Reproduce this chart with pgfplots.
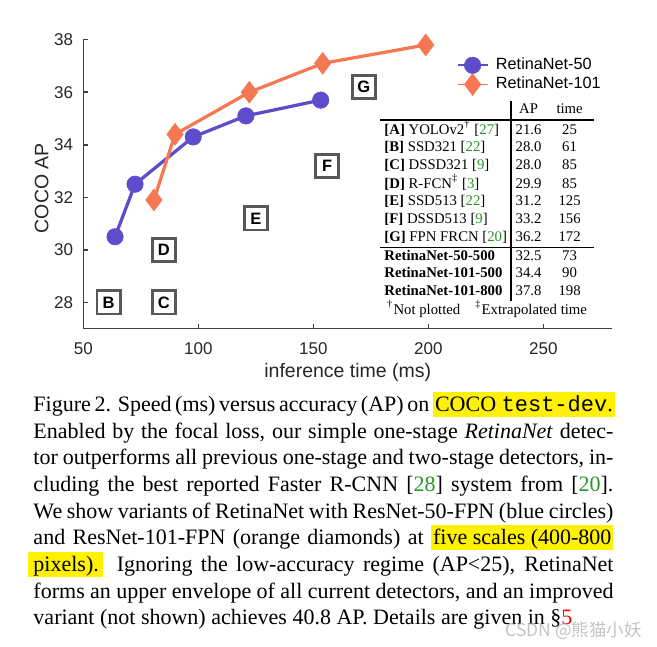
\documentclass[border=0pt]{standalone}
\usepackage{pgfplots}
\usepackage{pgfplotstable}
\pgfplotsset{compat=1.18}
\usepackage{fontspec}
\usepackage{array}
\setmainfont{Liberation Serif}
\setmonofont{Liberation Mono}
\newfontfamily\hv{Liberation Sans}
\newfontfamily\cjk{Noto Sans CJK SC}
\definecolor{rn50}{RGB}{93,76,204}
\definecolor{rn101}{RGB}{246,120,82}
\definecolor{boxgray}{RGB}{88,88,88}
\definecolor{axgray}{RGB}{64,64,64}
\definecolor{txgray}{RGB}{38,38,38}
\definecolor{hly}{RGB}{255,242,0}
\definecolor{citeg}{RGB}{40,150,40}
\newcommand\cit[1]{\textcolor{citeg}{#1}}
\newcommand\hl[1]{{\setlength\fboxsep{0pt}\colorbox{hly}{\rule[-2.2pt]{0pt}{10.2pt}\hspace{0.8pt}#1\hspace{0.8pt}}}}
\newcommand\capfont{\fontsize{8.8}{10.67}\selectfont}

\pgfplotstableread{
x y
63.8 30.5
72.5 32.5
97.8 34.3
120.7 35.1
153.2 35.7
}\rnfifty
\pgfplotstableread{
x y
80.7 31.9
89.9 34.4
122.2 36.0
154.1 37.1
198.9 37.8
}\rnhundred
\pgfplotstableread{
x y lab
61 28.0 B
85 28.0 C
85 30.0 D
125 31.2 E
156 33.2 F
172 36.2 G
}\others

\begin{document}
\begin{tikzpicture}
\path[use as bounding box] (0pt,0pt) rectangle (262.8pt,-258.8pt);
\begin{axis}[
  at={(33.32pt,-131.48pt)}, anchor=south west,
  scale only axis, width=211.6pt, height=115.6pt,
  xmin=50, xmax=280, ymin=27, ymax=38,
  axis x line*=bottom, axis y line*=left,
  axis line style={draw=axgray, line width=0.6pt, -},
  xtick={50,100,150,200,250}, ytick={28,30,32,34,36,38},
  tick align=inside, major tick length=1.8pt,
  tick style={draw=axgray, line width=0.6pt},
  /pgf/number format/assume math mode=true,
  ticklabel style={font=\hv\fontsize{6.8}{8}\selectfont, text=txgray},
  xticklabel style={yshift=-2.1pt},
  yticklabel style={xshift=-0.6pt},
  xlabel={inference time (ms)}, ylabel={COCO AP},
  label style={font=\hv\fontsize{7.8}{9}\selectfont, text=txgray},
  xlabel style={at={(axis description cs:0.5,-0.152)}, anchor=center},
  ylabel style={at={(axis description cs:-0.0787,0.486)}, anchor=center},
  clip=false,
  legend cell align=left,
  legend style={at={(axis description cs:0.7059,0.940)}, anchor=north west,
    draw=none, fill=none, inner sep=0pt, outer sep=0pt,
    font=\hv\fontsize{6.5}{7.5}\selectfont, text=black,
    nodes={inner sep=0pt}, column sep=3.0pt, row sep=0pt},
  legend image code/.code={\draw[mark repeat=2,mark phase=2,#1,line width=0.7pt] plot coordinates {(0pt,0pt) (6pt,0pt) (12pt,0pt)};},
]
\addplot[rn50, line width=1.3pt, mark=*, mark size=3.3pt,
  mark options={fill=rn50, draw=rn50, line width=0.2pt}] table {\rnfifty};
\addlegendentry{RetinaNet-50}
\addplot[rn101, line width=1.3pt, mark=diamond*, mark size=4.4pt,
  mark options={fill=rn101, draw=rn101, line width=0.2pt}] table {\rnhundred};
\addlegendentry{RetinaNet-101}
\addplot[draw=none, mark=none, forget plot, point meta=explicit symbolic,
  nodes near coords,
  nodes near coords style={anchor=center, draw=boxgray, line width=1.1pt, fill=white,
    minimum size=9.3pt, inner sep=0pt, text=black,
    font=\hv\bfseries\fontsize{6.6}{7}\selectfont}]
  table[meta=lab] {\others};
\end{axis}
\begin{scope}[x=0.4pt,y=-0.4pt]
\node[anchor=north west, inner sep=0pt] at (380,100.5) {%
\fontsize{5.9}{7.08}\selectfont\setlength\tabcolsep{0pt}\setlength\arrayrulewidth{0.45pt}%
\renewcommand\arraystretch{1}%
\begin{tabular}{@{\hspace{1.6pt}}w{l}{49.6pt}@{\hspace{0.8pt}}|w{c}{13.6pt}w{c}{19.2pt}@{}}
 & AP & time\\
\noalign{\global\arrayrulewidth=0.75pt}\hline\noalign{\global\arrayrulewidth=0.45pt}
\textbf{[A]} YOLOv2\textsuperscript{†} [\cit{27}] & 21.6 & 25\\
\textbf{[B]} SSD321 [\cit{22}] & 28.0 & 61\\
\textbf{[C]} DSSD321 [\cit{9}] & 28.0 & 85\\
\textbf{[D]} R-FCN\textsuperscript{‡} [\cit{3}] & 29.9 & 85\\
\textbf{[E]} SSD513 [\cit{22}] & 31.2 & 125\\
\textbf{[F]} DSSD513 [\cit{9}] & 33.2 & 156\\
\textbf{[G]} FPN FRCN [\cit{20}] & 36.2 & 172\\
\hline
\textbf{RetinaNet-50-500} & 32.5 & 73\\
\textbf{RetinaNet-101-500} & 34.4 & 90\\
\textbf{RetinaNet-101-800} & 37.8 & 198\\
\multicolumn{3}{@{}c@{}}{\textsuperscript{†}Not plotted\hspace{6pt}\textsuperscript{‡}Extrapolated time}\\
\end{tabular}};
\node[anchor=base west, inner sep=0pt] at (33,411.7) {\capfont\makebox[232pt][s]{Figure 2. Speed (ms) versus accuracy (AP) on \hl{COCO \texttt{test-dev}.}}};
\node[anchor=base west, inner sep=0pt] at (33,438.3) {\capfont\makebox[232pt][s]{Enabled by the focal loss, our simple one-stage \textit{RetinaNet} detec-}};
\node[anchor=base west, inner sep=0pt] at (33,465) {\capfont\makebox[232pt][s]{tor outperforms all previous one-stage and two-stage detectors, in-}};
\node[anchor=base west, inner sep=0pt] at (33,491.7) {\capfont\makebox[232pt][s]{cluding the best reported Faster R-CNN [\cit{28}] system from [\cit{20}].}};
\node[anchor=base west, inner sep=0pt] at (33,518.3) {\capfont\makebox[232pt][s]{We show variants of RetinaNet with ResNet-50-FPN (blue circles)}};
\node[anchor=base west, inner sep=0pt] at (33,545) {\capfont\makebox[232pt][s]{and ResNet-101-FPN (orange diamonds) at \hl{five scales (400-800}}};
\node[anchor=base west, inner sep=0pt] at (33,571.7) {\capfont\makebox[232pt][s]{\hspace*{-2pt}\hl{\hspace{1.2pt}pixels).\hspace{1pt}}\hspace{2pt} Ignoring the low-accuracy regime (AP<25), RetinaNet}};
\node[anchor=base west, inner sep=0pt] at (33,598.3) {\capfont\makebox[232pt][s]{forms an upper envelope of all current detectors, and an improved}};
\node[anchor=base west, inner sep=0pt] at (33,625) {\capfont variant (not shown) achieves 40.8 AP. Details are given in \S\textcolor{red}{5}};
\node[anchor=base west, inner sep=0pt, text=gray!55, opacity=0.85] at (505,637) {\cjk\fontsize{7}{8}\selectfont CSDN @熊猫小妖};
\end{scope}
\end{tikzpicture}
\end{document}
